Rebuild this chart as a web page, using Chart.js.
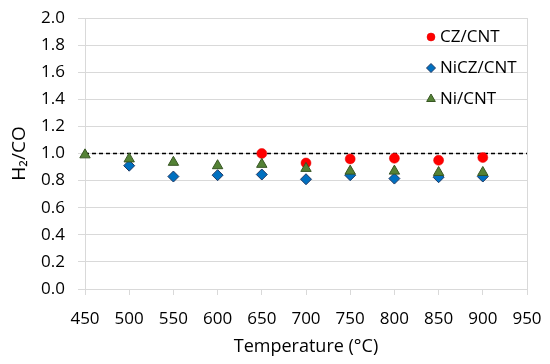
<!DOCTYPE html>
<html>
<head>
<meta charset="utf-8">
<script src="https://cdn.jsdelivr.net/npm/chart.js@4"></script>
<style>
  html, body { margin: 0; padding: 0; background: #ffffff; }
  #wrap { width: 550px; height: 364px; position: relative; }
</style>
</head>
<body>
<div id="wrap"><canvas id="c" width="550" height="364"></canvas></div>
<script>
// ---- data ----
const tempCZ   = [650, 700, 750, 800, 850, 900];
const valCZ    = [1.00, 0.93, 0.96, 0.965, 0.95, 0.97];
const tempNiCZ = [500, 550, 600, 650, 700, 750, 800, 850, 900];
const valNiCZ  = [0.91, 0.83, 0.84, 0.845, 0.81, 0.84, 0.815, 0.825, 0.83];
const tempNi   = [450, 500, 550, 600, 650, 700, 750, 800, 850, 900];
const valNi    = [0.99, 0.96, 0.935, 0.91, 0.92, 0.89, 0.87, 0.87, 0.86, 0.86];
const refLineX = [450, 950];
const refLineY = [1.0, 1.0];
const seriesNames = ['CZ/CNT', 'NiCZ/CNT', 'Ni/CNT'];
const xTicks = [450, 500, 550, 600, 650, 700, 750, 800, 850, 900, 950];
const yTicks = [0.0, 0.2, 0.4, 0.6, 0.8, 1.0, 1.2, 1.4, 1.6, 1.8, 2.0];

const pts = (xs, ys) => xs.map((x, i) => ({ x: x, y: ys[i] }));
const FONT = '"Open Sans", "Noto Sans", sans-serif';
const GRID = '#d9d9d9';

const legendPlugin = {
  id: 'innerLegend',
  afterDatasetsDraw(chart) {
    const ctx = chart.ctx;
    const items = [0, 1, 2];
    const x0 = 431, y0 = 37, gap = 31;
    ctx.save();
    items.forEach((di, k) => {
      const ds = chart.data.datasets[di];
      const y = y0 + k * gap;
      const opts = {
        pointStyle: ds.pointStyle,
        radius: ds.legendRadius,
        borderWidth: ds.pointBorderWidth,
        rotation: 0
      };
      ctx.fillStyle = ds.pointBackgroundColor;
      ctx.strokeStyle = ds.pointBorderColor;
      ctx.lineWidth = ds.pointBorderWidth;
      Chart.helpers.drawPoint(ctx, opts, x0, y);
      ctx.fillStyle = '#000000';
      ctx.font = '17px ' + FONT;
      ctx.textBaseline = 'middle';
      ctx.textAlign = 'left';
      ctx.fillText(ds.label, x0 + 9, y);
    });
    ctx.restore();
  }
};

new Chart(document.getElementById('c'), {
  type: 'scatter',
  data: {
    datasets: [
      {
        label: seriesNames[0],
        data: pts(tempCZ, valCZ),
        pointStyle: 'circle',
        pointRadius: 5,
        legendRadius: 4,
        pointBackgroundColor: '#ff0000',
        pointBorderColor: '#e00000',
        pointBorderWidth: 0.5,
        backgroundColor: '#ff0000',
        borderColor: '#e00000',
        clip: false,
        order: 3
      },
      {
        label: seriesNames[1],
        data: pts(tempNiCZ, valNiCZ),
        pointStyle: 'rectRot',
        pointRadius: 5.5,
        legendRadius: 4.5,
        pointBackgroundColor: '#0070c0',
        pointBorderColor: '#1f3864',
        pointBorderWidth: 1,
        backgroundColor: '#0070c0',
        borderColor: '#1f3864',
        clip: false,
        order: 2
      },
      {
        label: seriesNames[2],
        data: pts(tempNi, valNi),
        pointStyle: 'triangle',
        pointRadius: 6,
        legendRadius: 5,
        pointBackgroundColor: '#548235',
        pointBorderColor: '#375623',
        pointBorderWidth: 1,
        backgroundColor: '#548235',
        borderColor: '#375623',
        clip: false,
        order: 1
      },
      {
        label: 'ref',
        type: 'line',
        data: pts(refLineX, refLineY),
        borderColor: '#000000',
        borderWidth: 1.3,
        borderDash: [4, 3],
        pointRadius: 0,
        fill: false,
        order: 4
      }
    ]
  },
  options: {
    responsive: false,
    animation: false,
    events: [],
    layout: { padding: { top: 18, right: 23, left: 0, bottom: 0 } },
    plugins: {
      legend: { display: false },
      tooltip: { enabled: false }
    },
    scales: {
      x: {
        type: 'linear',
        min: 450,
        max: 950,
        afterBuildTicks(scale) { scale.ticks = xTicks.map(v => ({ value: v })); },
        afterFit(scale) {
          scale.height = 75;
          scale.paddingLeft = 0;
          scale.paddingRight = 0;
        },
        ticks: {
          color: '#000000',
          font: { family: FONT, size: 17 },
          padding: 14,
          maxRotation: 0,
          autoSkip: false,
          callback: v => String(v)
        },
        grid: {
          color: ctx => (ctx.tick && ctx.tick.value === 950) ? GRID : 'rgba(0,0,0,0)',
          tickColor: GRID,
          tickLength: 6,
          lineWidth: 1
        },
        border: { color: GRID, width: 1 },
        title: {
          display: true,
          text: 'Temperature (°C)',
          color: '#000000',
          font: { family: FONT, size: 18 },
          padding: { top: 2, bottom: 6 }
        }
      },
      y: {
        min: 0,
        max: 2,
        afterBuildTicks(scale) { scale.ticks = yTicks.map(v => ({ value: v })); },
        afterFit(scale) {
          scale.width = 85;
          scale.paddingTop = 0;
          scale.paddingBottom = 0;
        },
        ticks: {
          color: '#000000',
          font: { family: FONT, size: 17 },
          padding: 13,
          autoSkip: false,
          callback: v => Number(v).toFixed(1)
        },
        grid: {
          color: GRID,
          tickColor: GRID,
          tickLength: 7,
          lineWidth: 1
        },
        border: { color: GRID, width: 1 },
        title: {
          display: true,
          text: 'H₂/CO',
          color: '#000000',
          font: { family: FONT, size: 19 },
          padding: { top: 8, bottom: 0 }
        }
      }
    }
  },
  plugins: [legendPlugin]
});
</script>
</body>
</html>
